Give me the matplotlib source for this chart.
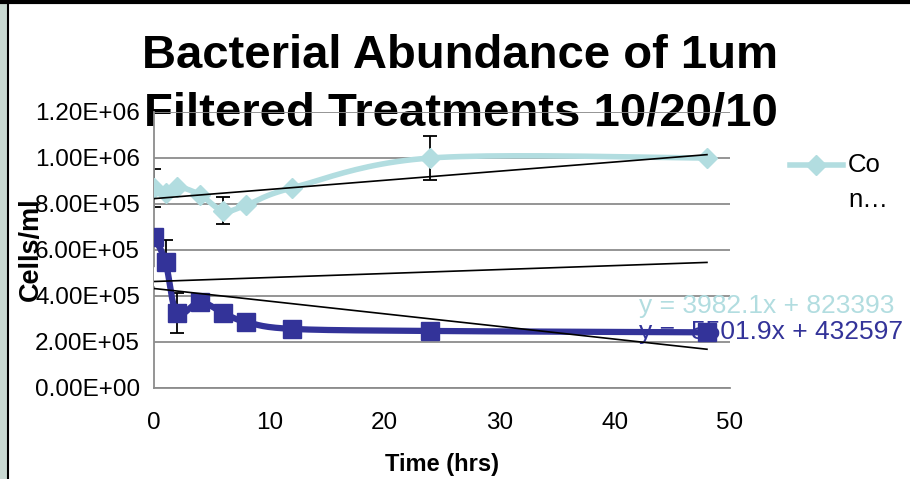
import numpy as np
import matplotlib
matplotlib.use('Agg')
import matplotlib.pyplot as plt
from matplotlib.lines import Line2D
from matplotlib.patches import Rectangle

plt.rcParams['font.family'] = ['Liberation Sans', 'DejaVu Sans']

# ---- data ----
time_hrs = [0, 1, 2, 4, 6, 8, 12, 24, 48]
control = [8.70e5, 8.50e5, 8.75e5, 8.40e5, 7.70e5, 7.95e5, 8.70e5, 1.00e6, 1.00e6]
control_err = [8.3e4, 0, 0, 0, 5.9e4, 0, 0, 9.6e4, 0]
hidden = [4.85e5, 4.90e5, 4.85e5, 4.70e5, 4.60e5, 4.50e5, 4.80e5, 5.05e5, 5.45e5]
treatment = [6.57e5, 5.48e5, 3.26e5, 3.74e5, 3.26e5, 2.87e5, 2.57e5, 2.48e5, 2.42e5]
treatment_err = [0, 9.5e4, 8.9e4, 0, 0, 0, 0, 0, 0]

control_fit = (3982.1, 823393)
hidden_fit = (1730.0, 463000)
treatment_fit = (-5501.9, 432597)
fit_range = [0, 48]

y_ticks = [0, 2e5, 4e5, 6e5, 8e5, 1.0e6, 1.2e6]
x_ticks = [0, 10, 20, 30, 40, 50]

title_lines = ['Bacterial Abundance of 1um', 'Filtered Treatments 10/20/10']
legend_label = ['Co', 'n\u2026']

CYAN = '#b2dde0'
BLUE = '#333399'
GRID = '#8c8c8c'

W, H = 910, 479
fig = plt.figure(figsize=(W / 100, H / 100), dpi=100)
fig.patch.set_facecolor('white')

# frame decorations of the slide
fig.add_artist(Rectangle((0, 0), 7 / W, 1, transform=fig.transFigure,
                         facecolor='#c9d9d2', edgecolor='none', zorder=-5))
fig.add_artist(Line2D([7.5 / W, 7.5 / W], [0, 1], transform=fig.transFigure,
                      color='black', lw=1.5, zorder=-4))
fig.add_artist(Line2D([0, 1], [1 - 1.5 / H, 1 - 1.5 / H], transform=fig.transFigure,
                      color='black', lw=3, zorder=-4))

x0, x1, y0, y1 = 154, 730, 112, 388
ax = fig.add_axes([x0 / W, 1 - y1 / H, (x1 - x0) / W, (y1 - y0) / H])
ax.patch.set_alpha(0)
ax.set_xlim(0, 50)
ax.set_ylim(0, 1.2e6)

sx = (x1 - x0) / 50.0
sy = (y1 - y0) / 1.2e6


def smooth(xs, ys, n=24):
    P = np.column_stack([np.asarray(xs, float) * sx, np.asarray(ys, float) * sy])
    P = np.vstack([P[0], P, P[-1]])
    segs = []
    t = np.linspace(0, 1, n)[:, None]
    for i in range(1, len(P) - 2):
        p0, p1, p2, p3 = P[i - 1], P[i], P[i + 1], P[i + 2]
        c = 0.5 * ((2 * p1) + (-p0 + p2) * t + (2 * p0 - 5 * p1 + 4 * p2 - p3) * t ** 2
                   + (-p0 + 3 * p1 - 3 * p2 + p3) * t ** 3)
        segs.append(c)
    C = np.vstack(segs)
    return C[:, 0] / sx, C[:, 1] / sy


ax.set_yticks(y_ticks)
ax.set_yticklabels(['{:.2E}'.format(v) for v in y_ticks], fontsize=17.5)
ax.set_xticks(x_ticks)
ax.set_xticklabels([str(v) for v in x_ticks], fontsize=17.5)
ax.tick_params(axis='both', length=0)
ax.tick_params(axis='y', pad=10)
ax.tick_params(axis='x', pad=17)
ax.yaxis.grid(True, color=GRID, lw=1.3, zorder=0)
ax.set_axisbelow(True)
for s in ['top', 'right']:
    ax.spines[s].set_visible(False)
for s in ['left', 'bottom']:
    ax.spines[s].set_color(GRID)
    ax.spines[s].set_linewidth(1.3)

ax.set_xlabel('Time (hrs)', fontsize=17, fontweight='bold', labelpad=14)

# control series
cx, cy = smooth(time_hrs, control)
ax.plot(cx, cy, color=CYAN, lw=4, zorder=3, solid_capstyle='round')
ax.errorbar(time_hrs, control, yerr=control_err, fmt='none', ecolor='black',
            elinewidth=1.3, capsize=5, capthick=1.3, zorder=2)
ax.plot(time_hrs, control, ls='none', marker='D', ms=10, color=CYAN,
        mec=CYAN, zorder=4)

# hidden (white) series
hx, hy = smooth(time_hrs, hidden)
ax.plot(hx, hy, color='white', lw=4, zorder=3)
ax.plot(time_hrs, hidden, ls='none', marker='^', ms=13, color='white',
        mec='white', zorder=4)

# equation labels (below the blue series)
ax.text(42.1, 3.565e5, 'y = {:.1f}x + {:d}'.format(*control_fit), color=CYAN,
        fontsize=19, ha='left', va='center', clip_on=False, zorder=2)
ax.text(42.1, 2.435e5, 'y = {:.1f}x + {:d}'.format(*treatment_fit), color=BLUE,
        fontsize=19, ha='left', va='center', clip_on=False, zorder=2)

# treatment series
tx, ty = smooth(time_hrs, treatment)
ax.plot(tx, ty, color=BLUE, lw=4.5, zorder=5)
ax.errorbar(time_hrs, treatment, yerr=treatment_err, fmt='none', ecolor='black',
            elinewidth=1.3, capsize=5, capthick=1.3, zorder=2)
ax.plot(time_hrs, treatment, ls='none', marker='s', ms=13, color=BLUE,
        mec=BLUE, zorder=6)

# linear trendlines
fx = np.array(fit_range, float)
for slope, icpt in (control_fit, hidden_fit, treatment_fit):
    ax.plot(fx, slope * fx + icpt, color='black', lw=1.2, zorder=7)

# title (under the gridline, like the original)
fig.text(460 / W, 1 - 68 / H, title_lines[0], ha='center', va='baseline',
         fontsize=34, fontweight='bold', zorder=-1)
fig.text(461 / W, 1 - 125 / H, title_lines[1], ha='center', va='baseline',
         fontsize=34, fontweight='bold', zorder=-1)

# y label
fig.text(31 / W, 1 - 249 / H, 'Cells/ml', rotation=90, ha='center', va='center',
         fontsize=19.5, fontweight='bold')

# legend (truncated in the original)
ly = 1 - 165 / H
fig.add_artist(Line2D([790 / W, 843 / W], [ly, ly], transform=fig.transFigure,
                      color=CYAN, lw=4))
fig.add_artist(Line2D([816 / W], [ly], transform=fig.transFigure, color=CYAN,
                      marker='D', ms=10, ls='none'))
fig.text(848 / W, ly, legend_label[0], fontsize=18.5, va='center', ha='left')
fig.text(848 / W, 1 - 200 / H, legend_label[1], fontsize=18.5, va='center', ha='left')

fig.savefig('out.png', dpi=100)
